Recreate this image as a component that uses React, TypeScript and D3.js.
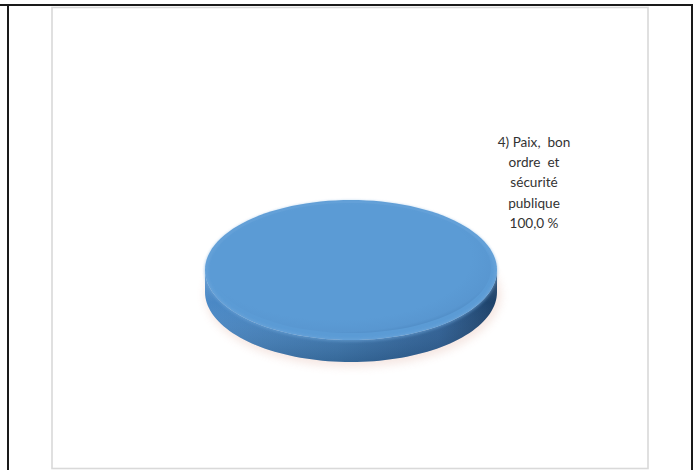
import React from "react";
import * as d3 from "d3";

const categories = ["4) Paix, bon ordre et sécurité publique"];
const values = [100];
const labelLines = ["4) Paix,  bon", "ordre  et", "sécurité", "publique"];
const colors = ["#5B9BD5"];

const W = 697;
const H = 470;

function pt(cx: number, cy: number, rx: number, ry: number, a: number) {
  return [cx + rx * Math.sin(a), cy - ry * Math.cos(a)];
}

function topPath(cx: number, cy: number, rx: number, ry: number, a0: number, a1: number) {
  const n = 120;
  const pts: number[][] = [];
  for (let i = 0; i <= n; i++) pts.push(pt(cx, cy, rx, ry, a0 + ((a1 - a0) * i) / n));
  const full = a1 - a0 >= 2 * Math.PI - 1e-6;
  let d = (full ? "M" : `M${cx},${cy}L`) + pts.map((p) => `${p[0]},${p[1]}`).join("L");
  return d + "Z";
}

function sidePath(cx: number, cy: number, rx: number, ry: number, h: number, a0: number, a1: number) {
  const s = Math.max(a0, Math.PI / 2);
  const e = Math.min(a1, (3 * Math.PI) / 2);
  if (e <= s) return "";
  const n = 80;
  const top: number[][] = [];
  for (let i = 0; i <= n; i++) top.push(pt(cx, cy, rx, ry, s + ((e - s) * i) / n));
  const bot = top.map((p) => [p[0], p[1] + h]).reverse();
  return "M" + top.concat(bot).map((p) => `${p[0]},${p[1]}`).join("L") + "Z";
}

export default function App() {
  const cx = 351;
  const cy = 270;
  const rx = 146;
  const ry = 70;
  const h = 22;
  const pie = d3.pie<number>().sort(null)(values);
  const total = d3.sum(values);
  const fmt = (v: number) => (v / total * 100).toFixed(1).replace(".", ",") + " %";

  return (
    <svg width={W} height={H} style={{ position: "absolute", left: 0, top: 0 }} fontFamily="Lato, 'Open Sans', sans-serif">
      <defs>
        <linearGradient id="side" x1="0" x2="1" y1="0" y2="0">
          <stop offset="0" stopColor="#4b89c6" />
          <stop offset="0.45" stopColor="#3f7ab3" />
          <stop offset="0.8" stopColor="#2f6197" />
          <stop offset="1" stopColor="#1c3f66" />
        </linearGradient>
        <linearGradient id="sideV" x1="0" x2="0" y1="0" y2="1">
          <stop offset="0" stopColor="#ffffff" stopOpacity="0.18" />
          <stop offset="0.35" stopColor="#ffffff" stopOpacity="0" />
          <stop offset="1" stopColor="#000000" stopOpacity="0.15" />
        </linearGradient>
        <radialGradient id="topG" cx="0.45" cy="0.42" r="0.6">
          <stop offset="0.8" stopColor="#5B9BD5" />
          <stop offset="0.95" stopColor="#5896d0" />
          <stop offset="1" stopColor="#4f8bc4" />
        </radialGradient>
        <filter id="blur" x="-20%" y="-50%" width="140%" height="200%">
          <feGaussianBlur stdDeviation="4" />
        </filter>
        <filter id="blur2" x="-10%" y="-10%" width="120%" height="120%">
          <feGaussianBlur stdDeviation="1.5" />
        </filter>
      </defs>
      <rect x={0} y={0} width={W} height={H} fill="#ffffff" />
      <line x1={0} x2={693} y1={5} y2={5} stroke="#1a1a1a" strokeWidth={2} />
      <line x1={8} x2={8} y1={4} y2={H} stroke="#1a1a1a" strokeWidth={2} />
      <line x1={692} x2={692} y1={4} y2={H} stroke="#1a1a1a" strokeWidth={2} />
      <rect x={52} y={7.5} width={596} height={461} fill="#ffffff" stroke="#d9d9d9" strokeWidth={1.6} />

      <ellipse cx={cx + 2} cy={cy + h + 3} rx={rx + 2} ry={ry + 2} fill="#e9c9c0" opacity={0.45} filter="url(#blur)" />

      {pie.map((s, i) => (
        <g key={categories[i]}>
          <path d={sidePath(cx, cy, rx, ry, h, s.startAngle, s.endAngle)} fill="url(#side)" />
          <path d={sidePath(cx, cy, rx, ry, h, s.startAngle, s.endAngle)} fill="url(#sideV)" />
          <path d={topPath(cx, cy, rx, ry, s.startAngle, s.endAngle)} fill={colors[i]} />
          <path d={topPath(cx, cy + 1, rx - 1, ry - 1, s.startAngle, s.endAngle)} fill="none" stroke="#6fa8dc" strokeWidth={2.5} opacity={0.7} filter="url(#blur2)" />
          <path d={topPath(cx, cy - 2, rx - 6, ry - 5, s.startAngle, s.endAngle)} fill="url(#topG)" stroke="none" opacity={0.9} />
        </g>
      ))}

      <g fontSize={13.6} fill="#333333" textAnchor="middle">
        {labelLines.concat([fmt(values[0])]).map((t, i) => (
          <text key={i} x={534} y={147 + i * 20.2} style={{ whiteSpace: "pre" }}>{t}</text>
        ))}
      </g>
    </svg>
  );
}
